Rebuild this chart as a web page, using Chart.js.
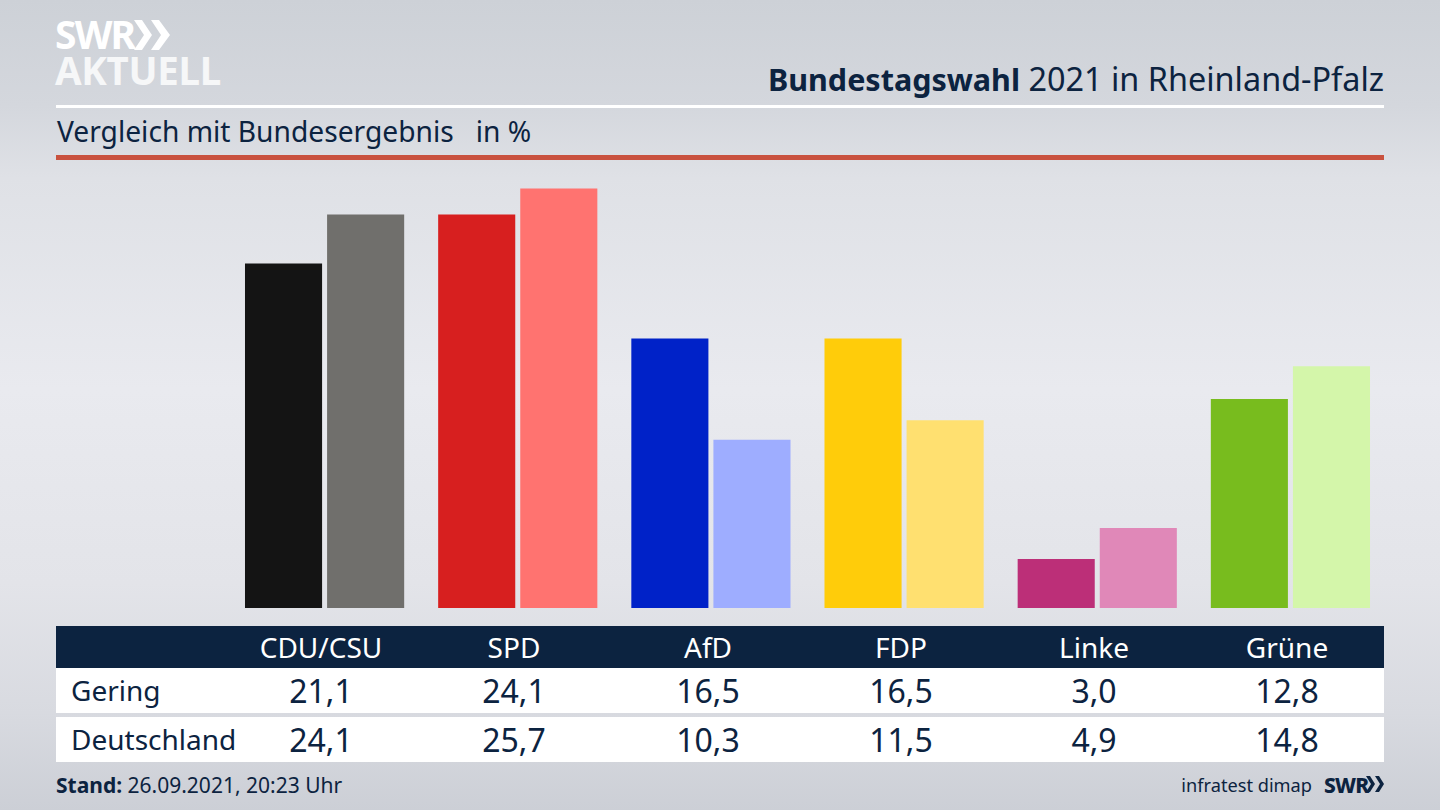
<!DOCTYPE html>
<html lang="de">
<head>
<meta charset="utf-8">
<title>Bundestagswahl 2021 in Rheinland-Pfalz</title>
<script src="https://cdn.jsdelivr.net/npm/chart.js@4"></script>
<style>
html, body { margin: 0; padding: 0; }
body {
    width: 1440px; height: 810px; position: relative; overflow: hidden;
    font-family: 'Noto Sans', sans-serif; color: #0c2340;
    background: linear-gradient(180deg, #cdd1d7 0%, #d4d7dd 13%, #dfe1e6 22%, #e9eaef 48%, #e3e4e9 72%, #d8dae0 88%, #cccfd6 100%);
}
.abs { position: absolute; white-space: nowrap; }
#logo1, #logo2 { left: 55px; color: #fff; font-weight: 700; line-height: 1; }
#logo1 { top: 14px; font-size: 39px; letter-spacing: -1.8px; }
#logo2 { top: 51px; font-size: 38.5px; letter-spacing: -0.3px; color: #f6f7f8; }
#chev1 { left: 134px; top: 18px; }
#title { right: 56px; top: 57px; font-size: 32.4px; line-height: 42px; }
#title b { font-size: 30.5px; }
#subtitle { left: 57px; top: 111px; font-size: 28.2px; line-height: 40px; white-space: pre; }
#line-white { left: 56px; top: 105px; width: 1328px; height: 3px; background: #fff; }
#line-red { left: 56px; top: 155px; width: 1328px; height: 5px; background: #c9523f; }
#chart-box { left: 228px; top: 183px; width: 1159px; height: 425px; }
#chart-box canvas { display: block; }
.row { left: 56px; width: 1328px; }
.row span { position: absolute; transform: translateX(-50%); white-space: nowrap; }
.row span.name { transform: none; left: 15px; font-size: 28px; }
#head { top: 626px; height: 42px; background: #0c2340; color: #fff; font-size: 28px; line-height: 42px; }
#row1 { top: 668px; height: 45px; background: #fff; font-size: 32px; line-height: 45px; }
#row2 { top: 717px; height: 45px; background: #fff; font-size: 32px; line-height: 45px; }
#stand { left: 56px; top: 770px; font-size: 21px; line-height: 30px; }
#source { right: 128px; top: 771px; font-size: 18.2px; line-height: 28px; }
#swr { left: 1324px; top: 771px; font-size: 21px; font-weight: 800; line-height: 28px; letter-spacing: -0.8px; }
#chev2 { left: 1366px; top: 776px; }
</style>
</head>
<body>
<div class="abs" id="logo1">SWR</div>
<svg class="abs" id="chev1" width="38" height="34" viewBox="0 0 38 34"><path d="M0 2h8l10 15-10 15H0l10-15zM17 2h8l11 15-11 15h-8l10-15z" fill="#fff"/></svg>
<div class="abs" id="logo2">AKTUELL</div>
<div class="abs" id="title"><b>Bundestagswahl</b> 2021 in Rheinland-Pfalz</div>
<div class="abs" id="line-white"></div>
<div class="abs" id="subtitle">Vergleich mit Bundesergebnis   in %</div>
<div class="abs" id="line-red"></div>
<div class="abs" id="chart-box"><canvas id="chart"></canvas></div>
<div class="abs row" id="head"></div>
<div class="abs row" id="row1"></div>
<div class="abs row" id="row2"></div>
<div class="abs" id="stand"><b>Stand:</b> 26.09.2021, 20:23 Uhr</div>
<div class="abs" id="source">infratest dimap</div>
<div class="abs" id="swr">SWR</div>
<svg class="abs" id="chev2" width="18" height="16" viewBox="0 0 18 16"><path d="M0 0h4l5 8-5 8H0l5-8zM9 0h4l5 8-5 8H9l5-8z" fill="#0c2340"/></svg>

<script>
const parties = ['CDU/CSU', 'SPD', 'AfD', 'FDP', 'Linke', 'Grüne'];
const gering = [21.1, 24.1, 16.5, 16.5, 3.0, 12.8];
const deutschland = [24.1, 25.7, 10.3, 11.5, 4.9, 14.8];
const geringColors = ['#141414', '#d71f1f', '#0022c8', '#ffcc0a', '#bc2f78', '#78bc1e'];
const deutschlandColors = ['#706f6c', '#ff7370', '#9eadff', '#ffe070', '#e088b8', '#d4f6aa'];
const columnCenters = [265, 458, 652, 845, 1038, 1231];

function fillRow(id, name, cells) {
    const row = document.getElementById(id);
    if (name) {
        const label = document.createElement('span');
        label.className = 'name';
        label.textContent = name;
        row.appendChild(label);
    }
    cells.forEach((text, i) => {
        const cell = document.createElement('span');
        cell.style.left = columnCenters[i] + 'px';
        cell.textContent = text;
        row.appendChild(cell);
    });
}

const fmt = v => v.toFixed(1).replace('.', ',');
fillRow('head', '', parties);
fillRow('row1', 'Gering', gering.map(fmt));
fillRow('row2', 'Deutschland', deutschland.map(fmt));

new Chart(document.getElementById('chart'), {
    type: 'bar',
    data: {
        labels: parties,
        datasets: [
            { label: 'Gering', data: gering, backgroundColor: geringColors },
            { label: 'Deutschland', data: deutschland, backgroundColor: deutschlandColors }
        ]
    },
    options: {
        responsive: true,
        maintainAspectRatio: false,
        animation: false,
        categoryPercentage: 0.85,
        barPercentage: 0.939,
        plugins: {
            legend: { display: false },
            tooltip: { enabled: false }
        },
        scales: {
            x: { display: false },
            y: { display: false, min: 0, max: 26.03 }
        }
    }
});
</script>
</body>
</html>
